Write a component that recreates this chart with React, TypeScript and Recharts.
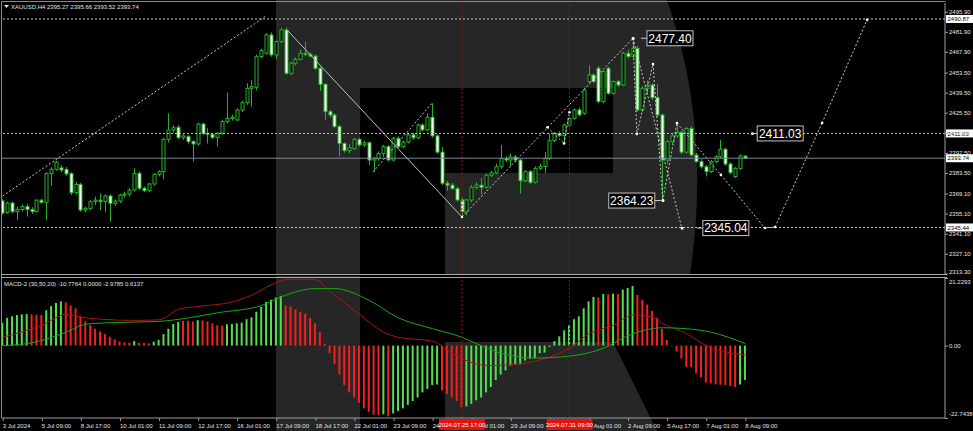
import React from "react";
import {
  ComposedChart,
  Bar,
  Line,
  XAxis,
  YAxis,
  ReferenceLine,
  ReferenceDot,
  Cell,
} from "recharts";

const FONT = '"Liberation Sans", Arial, sans-serif';
const CANDLE = "#25b325";
const AXIS = "#9c9c9c";
const TEXT = "#e2e2e2";
const LOGO = "#262626";

// XAUUSD H4 bars, 3 Jul 2024 .. 8 Aug 2024 09:00 : [open, high, low, close]
const ohlc: [number, number, number, number][] = [
  [2364, 2365, 2354.5, 2355.5], [2356, 2363.5, 2355, 2362.5], [2362.5, 2363.5, 2355.5, 2356.5], [2356.5, 2360, 2350.5, 2358], [2358, 2361.5, 2356.5, 2360],
  [2360, 2362, 2353, 2358], [2358, 2359.5, 2355, 2356.5], [2356.5, 2365, 2356, 2364.5], [2364.5, 2365.5, 2362, 2363], [2363, 2384, 2350.5, 2383],
  [2383, 2387.5, 2374.5, 2386], [2386, 2392, 2385, 2391], [2387, 2389, 2384, 2385.5], [2386, 2387.5, 2381.5, 2382.8], [2383, 2384, 2368, 2369.7],
  [2369.7, 2377, 2368.5, 2375.5], [2375.5, 2376.5, 2356.5, 2357.6], [2357.6, 2360, 2356, 2358.8], [2358.8, 2364.5, 2357.5, 2363.5], [2363.5, 2367, 2361, 2364.5],
  [2364.5, 2369.3, 2357.6, 2363.5], [2363.5, 2368.5, 2356.5, 2367.4], [2367.4, 2368.5, 2349.5, 2362.3], [2362.3, 2365, 2360.5, 2363.9], [2363.9, 2369, 2362.5, 2368],
  [2368, 2370.5, 2366.5, 2368.8], [2368.8, 2373, 2367, 2371.6], [2371.6, 2386.7, 2370.5, 2383.2], [2383.2, 2384.5, 2371.5, 2372.8], [2372.8, 2374, 2370, 2371.1],
  [2371.1, 2376.5, 2370, 2375.8], [2375.8, 2383.5, 2374.5, 2382.5], [2382.5, 2385.5, 2381, 2384.4], [2384.4, 2408, 2379, 2406.9], [2406.9, 2425, 2404.8, 2413.4],
  [2413.4, 2417, 2411.5, 2415], [2415.3, 2417, 2407, 2408.1], [2408.1, 2410.5, 2406.5, 2409.3], [2409, 2410, 2404, 2405.3], [2405.3, 2406.5, 2391.4, 2403.7],
  [2403.7, 2418.5, 2402.5, 2417.6], [2417.6, 2418.5, 2410, 2411.1], [2411.1, 2414.6, 2404, 2410.4], [2410.4, 2411.5, 2407, 2408.3], [2408.3, 2412, 2401.9, 2411.1],
  [2411.1, 2420.5, 2410, 2419.3], [2419.3, 2439.5, 2418, 2421.5], [2421.5, 2424, 2420, 2422.3], [2420.4, 2428.5, 2419.5, 2427.4], [2427.4, 2434, 2426, 2432.5],
  [2432.5, 2446, 2431, 2442.5], [2442.5, 2448.3, 2429.7, 2443.7], [2443.2, 2466, 2441, 2464.6], [2464.6, 2470, 2463.5, 2468.8], [2467, 2481, 2466, 2479.7],
  [2479.7, 2481.5, 2464.5, 2465.8], [2465.8, 2476, 2463, 2475.1], [2475.1, 2484.8, 2474, 2483.2], [2483.2, 2484.8, 2452, 2453], [2453, 2461, 2451.5, 2460],
  [2460, 2464, 2458.5, 2462.7], [2462.7, 2469.5, 2462, 2466.9], [2466.9, 2475, 2465, 2466.2], [2466.2, 2467.5, 2464, 2465], [2465, 2466, 2455.5, 2456.5],
  [2456.5, 2457.5, 2440.7, 2445.3], [2445.3, 2446, 2420.4, 2426.2], [2426.2, 2427.5, 2422, 2423.9], [2423.9, 2425, 2414.5, 2415.8], [2415.8, 2417, 2395, 2404],
  [2404, 2405, 2397.5, 2399], [2399, 2403.5, 2397, 2401], [2400.5, 2408, 2399.5, 2406.9], [2406.9, 2408, 2402, 2403], [2403, 2406, 2401.5, 2404.5],
  [2404.5, 2405.5, 2389, 2392.5], [2392.5, 2395, 2384.4, 2393.5], [2393.5, 2398.5, 2392, 2397], [2397, 2403, 2394.5, 2401.8], [2401.8, 2403, 2391.5, 2392.5],
  [2392.5, 2408.5, 2391.5, 2407.6], [2407.6, 2409, 2400.5, 2401.8], [2401.8, 2406, 2400.5, 2405], [2405, 2411.5, 2404, 2410], [2410, 2411.5, 2406.5, 2408],
  [2408, 2418, 2407, 2416.9], [2416.9, 2418, 2412.5, 2413.5], [2413.5, 2425, 2412.5, 2422.3], [2422.3, 2432, 2408, 2409.3], [2409.3, 2410.5, 2397, 2398],
  [2398, 2401.5, 2375, 2376.3], [2376.3, 2378, 2371, 2375], [2375, 2376.5, 2371.5, 2372.6], [2372.6, 2374, 2363.5, 2364.6], [2364.6, 2366, 2352.8, 2356.5],
  [2356.5, 2365.5, 2354, 2364.6], [2364.6, 2375, 2363, 2373.5], [2373.5, 2377, 2372, 2375], [2375, 2380, 2368.5, 2373.5], [2373.5, 2383, 2372.5, 2381.9],
  [2381.9, 2385, 2380.5, 2383.5], [2383.5, 2390, 2382.5, 2387.8], [2387.8, 2403, 2386.5, 2393.6], [2393.6, 2395, 2391, 2392.5], [2392.5, 2397, 2387.8, 2394.6],
  [2394.6, 2396, 2391, 2392.5], [2392.5, 2393.5, 2369, 2378], [2378, 2385.5, 2377, 2384.4], [2384.4, 2385.5, 2375.5, 2377], [2377, 2388, 2376, 2386.7],
  [2386.7, 2390, 2385.5, 2388], [2388, 2398, 2383.2, 2393.6], [2393.6, 2411, 2392.5, 2406], [2406, 2412, 2405, 2411], [2411, 2412.5, 2408.5, 2409.5],
  [2409.5, 2418, 2404, 2416.9], [2416.9, 2423, 2415.5, 2421.6], [2421.6, 2428.5, 2420.5, 2427.4], [2427.4, 2429, 2423, 2424], [2425.1, 2443, 2424, 2441.3],
  [2447.2, 2458.5, 2446, 2451.8], [2451.8, 2453, 2446, 2447.2], [2456.5, 2458, 2432, 2433.2], [2433.2, 2455, 2432, 2454.1], [2456.5, 2457.5, 2438, 2439],
  [2439, 2448, 2438, 2447.2], [2447.2, 2448.5, 2443.5, 2444.8], [2444.8, 2468, 2444, 2466.9], [2466.9, 2469.5, 2463.5, 2464.6], [2464.6, 2477.4, 2463.5, 2470.4],
  [2470.4, 2472, 2426, 2427.4], [2427.4, 2444, 2426, 2442.5], [2442.5, 2448, 2439, 2444.8], [2444.8, 2446, 2434.5, 2436], [2436, 2445.3, 2422.5, 2423.9],
  [2423.9, 2425, 2364.23, 2392.5], [2392.5, 2406.5, 2390, 2405.3], [2405.3, 2410.5, 2404, 2409.3], [2409.3, 2418.5, 2408, 2411.8], [2411.8, 2413, 2396.5, 2398],
  [2398, 2415.5, 2397, 2414.5], [2414.5, 2416, 2395, 2396], [2396, 2397.5, 2390.5, 2391.4], [2391.4, 2393, 2386.5, 2387.8], [2387.8, 2389, 2381, 2384.4],
  [2384.4, 2392.5, 2383.5, 2391.4], [2391.4, 2396, 2390.5, 2394.8], [2394.8, 2406.5, 2393.5, 2400], [2400, 2401, 2388.5, 2389.7], [2389.7, 2391, 2382.5, 2383.7],
  [2381, 2387.5, 2380, 2386.7], [2386.7, 2396.5, 2385.5, 2395.3], [2395.27, 2395.66, 2393.52, 2393.74],
];

const dateTicks = [0, 8, 16, 24, 32, 40, 48, 56, 64, 72, 80, 88, 96, 104, 112, 120, 128, 136, 144, 152];
const dateLabels = [
  "3 Jul 2024", "5 Jul 09:00", "8 Jul 17:00", "10 Jul 01:00", "11 Jul 09:00", "12 Jul 17:00", "16 Jul 01:00",
  "17 Jul 09:00", "18 Jul 17:00", "22 Jul 01:00", "23 Jul 09:00", "24 Jul 17:00", "26 Jul 01:00", "29 Jul 09:00",
  "30 Jul 17:00", "1 Aug 01:00", "2 Aug 09:00", "5 Aug 17:00", "7 Aug 01:00", "8 Aug 09:00",
];
const priceTicks = [2495.9, 2481.9, 2467.9, 2453.5, 2439.5, 2425.5, 2411.5, 2397.5, 2383.5, 2369.1, 2355.1, 2341.1, 2327.1, 2313.3];
const dottedLevels = [2490.87, 2411.03, 2345.44];
const lastClose = 2393.74;
const markedBars = [94, 116];
const markedLabels = ["2024.07.25 17:00", "2024.07.31 09:00"];

// MACD-2 (30,50,20) histogram per bar, with its up/down colouring
const macdHist = [
  7.2, 8.7, 9.2, 9.6, 9.8, 9.9, 9.8, 9.7, 9.6, 11.1, 12.4, 13.4, 13.9,
  13.6, 12.6, 11.7, 9.2, 7.6, 6.4, 5.3, 4.4, 3.7, 2.8, 2.0, 1.3, 1.0, 0.9,
  1.4, 0.9, 0.8, 0.7, 1.2, 1.8, 3.6, 5.3, 6.8, 7.4, 7.8, 7.8, 7.6, 8.0,
  7.9, 7.6, 7.0, 6.4, 6.3, 6.7, 6.8, 7.0, 7.2, 8.3, 8.9, 10.6, 12.2, 13.7, 14.4, 15.1, 15.6,
  12.6, 12.3, 11.4, 10.6, 10.0, 8.7, 7.0, 4.2, 0.6, -2.4, -5.8, -9.1, -12.4, -14.7, -16.3, -18.0, -19.7, -20.8, -21.7, -21.9,
  -21.6, -22.2, -21.3, -20.6, -19.7, -18.6, -17.4, -16.3, -14.7, -13.6, -12.4, -12.2,
  -14.1, -15.2, -16.3, -17.4, -19.3,
  -19.1, -18.3, -17.2, -16.3, -14.7, -13.0, -10.8, -9.1, -7.8, -6.3, -6.0, -5.9, -4.7, -4.1, -4.0, -2.4, -2.2, -0.4,
  1.4, 2.9, 4.8, 6.4, 8.3, 9.2, 11.7, 13.9, 15.3,
  15.1, 16.2, 16.1, 16.3, 16.2, 17.6, 18.1, 18.7,
  15.9, 14.4, 12.9, 10.9, 8.7, 5.3, 1.8, -0.2, -1.9, -4.1, -6.7, -6.8, -8.6, -10.0, -11.6, -11.9, -12.2, -12.3, -12.4, -12.7, -13.0,
  -12.2, -10.78,
];
const macdDir = (
  "gggggg" + "rrr" + "gggg" + "rrrrrrrrrrrrrr" + "g" + "rrr" + "gggggg" + "rrr" + "g" + "rrrrr" +
  "gggggggggggg" + "rrrrrrrrrrrrrrrrrrrr" + "g" + "r" + "gggggggggg" + "rrrrr" +
  "ggggggggggggggggggggggggggg" + "r" + "g" + "r" + "g" + "r" + "ggg" + "rrrrrrrrrrrrrrrrrrrrr" + "gg"
).split("");
const macdRed: [number, number][] = [
  [0, 2.6], [8, 6.4], [13, 9.8], [16, 8.9], [20, 8.3], [27, 7.9], [32, 8.1], [36, 11.4], [40, 12.3], [47, 13.7],
  [51, 15.9], [56, 19.8], [58, 20.7], [64, 20.7], [67, 17], [73, 9.8], [78, 4.2], [81, 2.6], [88, 1.4], [92, -2.4],
  [97, -5.8], [100, -6.3], [108, -5.2], [111, -4.1], [116, -0.8], [120, 3.7], [125, 6.4], [129, 9.6], [133, 8.9],
  [135, 7], [140, 3.7], [144, 0], [147, -1.6], [152, -2.98],
];
const macdGreen: [number, number][] = [
  [0, 0], [6, 0.9], [13, 4.2], [17, 6.7], [22, 7.2], [32, 7.6], [38, 8.7], [44, 10.3], [53, 12.6], [57, 15.3],
  [64, 17.9], [68, 17.9], [75, 14.2], [81, 8.7], [88, 5.3], [94, 2.6], [97, 0.6], [102, -2.4], [109, -3.9],
  [116, -3.3], [123, -0.8], [128, 3.1], [135, 5.6], [140, 5.3], [145, 4.2], [152, 0.61],
];
const macdTicks = [21.2293, 0, -22.7438];
const macdTickLabels = ["21.2293", "0.00", "-22.7438"];

// drawn objects, as [bar index, price]
const upperTrend: [number, number][] = [[0, 2367.4], [53.7, 2492.5]];
const fallLine: [number, number][] = [[58.2, 2483.2], [94, 2352.8]];
const bounceLine: [number, number][] = [[75.8, 2384.2], [87.9, 2432.3]];
const riseLine: [number, number][] = [[94, 2352.8], [129, 2477.4]];
const smallZigzag: [number, number][] = [[111.5, 2415.3], [114.9, 2404], [116, 2425.8]];
const forecastPath: [number, number][] = [
  [129, 2477.4], [129.8, 2410.6], [133.1, 2459.4], [135.1, 2364.23], [138, 2418.3], [147, 2382.1],
  [156, 2345.1], [158.1, 2345.8], [167.7, 2418.3], [176.9, 2490.2],
];
const dropLine: [number, number][] = [[129, 2477.4], [139, 2345.04]];
const tagBars = [129, 135.1, 139, 153.4];
const tagPrices = [2477.4, 2364.23, 2345.04, 2411.03];
const tagOffsets = [14, -8, 21, 5];

const X_DOMAIN: [number, number] = [-0.143, 192.86];

const candleData = ohlc.map(([o, h, l, c], i) => ({ i, o, h, l, c, range: [l, h] }));
const redAt = new Map(macdRed);
const greenAt = new Map(macdGreen);
const macdData = macdHist.map((m, i) => ({
  i,
  m,
  red: redAt.has(i) ? redAt.get(i) : null,
  green: greenAt.has(i) ? greenAt.get(i) : null,
}));

const Candle = (p: any) => {
  const { x, y, width, height, payload } = p;
  if (!payload || x == null) return null;
  const { o, h, l, c } = payload;
  const top = Math.min(y, y + height);
  const bot = Math.max(y, y + height);
  const span = h - l || 1;
  const py = (v: number) => top + ((h - v) / span) * (bot - top);
  const cx = Math.round(x + width / 2);
  const yo = py(o);
  const yc = py(c);
  const bTop = Math.min(yo, yc);
  const bH = Math.max(Math.abs(yo - yc), 1);
  return (
    <g>
      <line x1={cx + 0.5} x2={cx + 0.5} y1={top} y2={bot} stroke={CANDLE} strokeWidth={1} />
      <rect x={cx - 1} y={bTop} width={3} height={bH} fill={c >= o ? "#000" : "#fff"} stroke={CANDLE} strokeWidth={1} />
    </g>
  );
};

const priceTick = (p: any) => {
  const { x, y, payload } = p;
  const last = payload.value === priceTicks[priceTicks.length - 1];
  return (
    <g>
      <line x1={x} x2={x + 3} y1={y + 0.5} y2={y + 0.5} stroke={AXIS} />
      <text x={x + 4} y={y + (last ? 0 : 2.2)} fill={TEXT} fontSize={6} fontFamily={FONT}>
        {Number(payload.value).toFixed(2)}
      </text>
    </g>
  );
};

const macdTick = (p: any) => {
  const { x, y, payload } = p;
  const k = macdTicks.indexOf(payload.value);
  const dy = k === 0 ? 4 : k === 2 ? -4 : 0;
  return (
    <g>
      <line x1={x} x2={x + 3} y1={y + 0.5} y2={y + 0.5} stroke={AXIS} />
      <text x={x + 4} y={y + 2.2 + dy} fill={TEXT} fontSize={6} fontFamily={FONT}>
        {macdTickLabels[k]}
      </text>
    </g>
  );
};

// date ticks; the two marked bars come last so their red tags sit on top
const dateTick = (p: any) => {
  const { x, y, payload } = p;
  const m = markedBars.indexOf(payload.value);
  if (m >= 0) {
    return (
      <g>
        <rect x={x - 23} y={y + 1} width={46} height={11} fill="#e8100f" />
        <text x={x} y={y + 8.8} fontSize={6} fontFamily={FONT} fill="#fff" textAnchor="middle">
          {markedLabels[m]}
        </text>
      </g>
    );
  }
  const k = dateTicks.indexOf(payload.value);
  return (
    <g>
      <line x1={x + 0.5} x2={x + 0.5} y1={y} y2={y + 3} stroke={AXIS} />
      <text x={x} y={y + 9.5} fill={TEXT} fontSize={6} fontFamily={FONT}>
        {dateLabels[k]}
      </text>
    </g>
  );
};

const axisTag = (text: string) => (props: any) => {
  const vb = props.viewBox;
  if (!vb) return null;
  const x = vb.x + vb.width + 1;
  const y = vb.y;
  return (
    <g>
      <rect x={x} y={y - 4} width={27} height={8} fill="#fff" />
      <text x={x + 1.5} y={y + 2.2} fontSize={6} fontFamily={FONT} fill="#000">
        {text}
      </text>
    </g>
  );
};

const priceTag = (text: string, dx: number) => (p: any) => {
  const { cx, cy } = p;
  if (cx == null) return null;
  const w = 46;
  const bx = dx >= 0 ? cx + dx : cx + dx - w;
  const edge = dx >= 0 ? bx : bx + w;
  const lead = dx >= 0 ? edge - 6 : edge + 6;
  return (
    <g>
      <rect x={cx - 1} y={cy - 1} width={2.5} height={2.5} fill="#fff" />
      <line x1={lead} x2={edge} y1={cy} y2={cy} stroke="#d0d0d0" />
      <rect x={bx} y={cy - 7.5} width={w} height={15} fill="#000" stroke="#c4c4c4" />
      <text x={bx + w / 2} y={cy + 4.3} fontSize={12} fontFamily={FONT} fill="#fff" textAnchor="middle">
        {text}
      </text>
    </g>
  );
};

const segs = (pts: [number, number][], stroke: string, dash?: string) =>
  pts.slice(1).map((pt, k) => (
    <ReferenceLine
      key={`${pts[0][0]}-${k}`}
      segment={[{ x: pts[k][0], y: pts[k][1] }, { x: pt[0], y: pt[1] }]}
      stroke={stroke}
      strokeDasharray={dash}
      ifOverflow="visible"
    />
  ));

const dots = (pts: [number, number][]) =>
  pts.map((pt, k) => (
    <ReferenceDot key={`d${pt[0]}-${k}`} x={pt[0]} y={pt[1]} r={1.3} fill="#fff" stroke="none" ifOverflow="visible" />
  ));

export default function App() {
  const DOT = "#c8c8c8";
  return (
    <div style={{ position: "absolute", left: 0, top: 0, width: 973, height: 431, background: "#000", overflow: "hidden" }}>
      {/* background logo */}
      <svg width={973} height={431} style={{ position: "absolute", left: 0, top: 0 }}>
        <path d="M276,0 H667 Q712,128 690,274 H445 V173 H613 V88 H360 V274 H276 Z" fill={LOGO} />
        <rect x={276} y={276} width={84} height={155} fill={LOGO} />
        <path d="M445,342 H613 L657,431 H445 Z" fill={LOGO} />
      </svg>

      <div style={{ position: "absolute", left: 0, top: 0 }}>
        <ComposedChart width={973} height={276} data={candleData} margin={{ top: 3, right: 0, bottom: 2, left: 2 }}>
          <XAxis type="number" dataKey="i" domain={X_DOMAIN} ticks={dateTicks} allowDataOverflow hide />
          <YAxis
            orientation="right"
            type="number"
            width={28}
            domain={[2313.0, 2502.0]}
            ticks={priceTicks}
            interval={0}
            allowDataOverflow
            tick={priceTick}
            tickLine={false}
            tickSize={0}
            tickMargin={0}
            axisLine={{ stroke: AXIS }}
          />
          {markedBars.map((b) => (
            <ReferenceLine key={`v${b}`} x={b} stroke="#c00000" strokeDasharray="2 2" />
          ))}
          {dottedLevels.map((v) => (
            <ReferenceLine key={`h${v}`} y={v} stroke={DOT} strokeDasharray="2 2" label={axisTag(v.toFixed(2))} />
          ))}
          <ReferenceLine y={lastClose} stroke="#788796" label={axisTag(lastClose.toFixed(2))} />
          {segs(upperTrend, DOT, "2 2")}
          {segs(fallLine, "#c0c0c0")}
          {segs(bounceLine, DOT, "2 2")}
          {segs(riseLine, DOT, "2 2")}
          {segs(smallZigzag, DOT, "2 2")}
          {segs(forecastPath, DOT, "2 2")}
          {segs(dropLine, DOT, "2 2")}
          <Bar dataKey="range" barSize={4} shape={(p: any) => <Candle {...p} />} isAnimationActive={false} />
          {dots(smallZigzag)}
          {dots(forecastPath)}
          {dots([riseLine[0]])}
          {tagBars.map((b, k) => (
            <ReferenceDot
              key={`t${k}`}
              x={b}
              y={tagPrices[k]}
              r={1}
              ifOverflow="visible"
              shape={priceTag(tagPrices[k].toFixed(2), tagOffsets[k])}
            />
          ))}
        </ComposedChart>
      </div>

      <div style={{ position: "absolute", left: 0, top: 276 }}>
        <ComposedChart width={973} height={155} data={macdData} margin={{ top: 2, right: 0, bottom: 0, left: 2 }}>
          <XAxis
            type="number"
            dataKey="i"
            domain={X_DOMAIN}
            ticks={[...dateTicks, ...markedBars]}
            interval={0}
            allowDataOverflow
            height={13}
            tick={dateTick}
            tickLine={false}
            tickSize={0}
            tickMargin={0}
            axisLine={{ stroke: AXIS }}
          />
          <YAxis
            orientation="right"
            type="number"
            width={28}
            domain={[-22.7438, 21.2293]}
            ticks={macdTicks}
            interval={0}
            allowDataOverflow
            tick={macdTick}
            tickLine={false}
            tickSize={0}
            tickMargin={0}
            axisLine={{ stroke: AXIS }}
          />
          <Bar dataKey="m" barSize={2} isAnimationActive={false}>
            {macdData.map((d, k) => (
              <Cell key={k} fill={macdDir[k] === "g" ? "#52e052" : "#f42020"} />
            ))}
          </Bar>
          <Line dataKey="red" type="monotone" stroke="#a81616" strokeWidth={1} dot={false} connectNulls isAnimationActive={false} />
          <Line dataKey="green" type="monotone" stroke="#17a817" strokeWidth={1} dot={false} connectNulls isAnimationActive={false} />
          {markedBars.map((b) => (
            <ReferenceLine key={`mv${b}`} x={b} stroke="#c00000" strokeDasharray="2 2" />
          ))}
        </ComposedChart>
      </div>

      {/* window frame and captions */}
      <svg width={973} height={431} style={{ position: "absolute", left: 0, top: 0, pointerEvents: "none" }}>
        <line x1={1.5} x2={1.5} y1={1.5} y2={418} stroke="#8a8a8a" />
        <line x1={1.5} x2={945.5} y1={1.5} y2={1.5} stroke="#8a8a8a" />
        <line x1={1.5} x2={947} y1={274.5} y2={274.5} stroke="#a8a8a8" />
        <line x1={1.5} x2={947} y1={277.5} y2={277.5} stroke="#a8a8a8" />
        <polygon points="4,5 9,5 6.5,8" fill={TEXT} />
        <text x={11} y={9} fontSize={6} fontFamily={FONT} fill={TEXT}>
          XAUUSD,H4  2395.27 2395.66 2393.52 2393.74
        </text>
        <text x={4} y={286} fontSize={6} fontFamily={FONT} fill={TEXT}>
          MACD-2 (30,50,20) -10.7764 0.0000 -2.9785 0.6137
        </text>
      </svg>
    </div>
  );
}
